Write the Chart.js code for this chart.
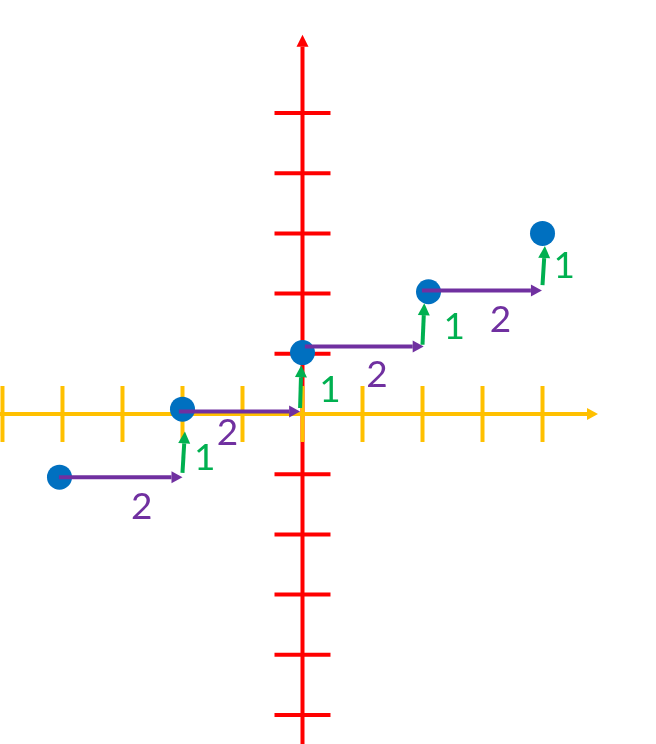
<!DOCTYPE html>
<html>
<head>
<meta charset="utf-8">
<script src="https://cdn.jsdelivr.net/npm/chart.js@4"></script>
<style>
  body { margin: 0; background: #fff; }
  #wrap { width: 656px; height: 744px; }
</style>
</head>
<body>
<div id="wrap"><canvas id="slopeChart" width="656" height="744"></canvas></div>
<script>
// points on the line
const pointX = [-4.05, -2, 0, 2.1, 4];
const pointY = [-1.05, 0.08, 1.02, 2.03, 3];

// axis tick values and axis extents
const xTicks = [-5, -4, -3, -2, -1, 0, 1, 2, 3, 4];
const yTicks = [-5, -4, -3, -2, -1, 0, 1, 2, 3, 4, 5];
const xAxisRange = [-5.05, 4.925];
const yAxisRange = [-5.5, 6.3];

// run arrows (purple): x from, x to, y
const runFromX = [-4.06, -2.06, 0.04, 1.99];
const runToX = [-2.0, -0.04, 2.02, 3.99];
const runY = [-1.05, 0.04, 1.12, 2.05];
const runText = ["2", "2", "2", "2"];
const runLabelX = [-2.68, -1.25, 1.24, 3.30];
const runLabelY = [-1.54, -0.32, 0.65, 1.56];

// rise arrows (green)
const riseFromX = [-2.0, -0.04, 2.0, 4.0];
const riseFromY = [-0.98, 0.10, 1.15, 2.14];
const riseToX = [-1.96, -0.02, 2.03, 4.04];
const riseToY = [-0.29, 0.81, 1.84, 2.79];
const riseText = ["1", "1", "1", "1"];
const riseLabelX = [-1.63, 0.46, 2.53, 4.36];
const riseLabelY = [-0.73, 0.40, 1.44, 2.45];

const YELLOW = "#FFC000";
const RED = "#FF0000";
const BLUE = "#0070C0";
const PURPLE = "#7030A0";
const GREEN = "#00B050";

function arrow(ctx, x1, y1, x2, y2, color, width, headLen, headHalf) {
    const ang = Math.atan2(y2 - y1, x2 - x1);
    const bx = x2 - Math.cos(ang) * headLen;
    const by = y2 - Math.sin(ang) * headLen;
    ctx.strokeStyle = color;
    ctx.fillStyle = color;
    ctx.lineWidth = width;
    ctx.lineCap = "butt";
    ctx.beginPath();
    ctx.moveTo(x1, y1);
    ctx.lineTo(bx, by);
    ctx.stroke();
    ctx.beginPath();
    ctx.moveTo(x2, y2);
    ctx.lineTo(bx + Math.sin(ang) * headHalf, by - Math.cos(ang) * headHalf);
    ctx.lineTo(bx - Math.sin(ang) * headHalf, by + Math.cos(ang) * headHalf);
    ctx.closePath();
    ctx.fill();
}

// axes under the points, arrows and numbers over them
const drawPlane = {
    id: "drawPlane",
    beforeDatasetsDraw(chart) {
        const { ctx, scales: { x, y } } = chart;
        const ox = x.getPixelForValue(0);
        const oy = y.getPixelForValue(0);
        ctx.save();
        // red vertical axis
        ctx.strokeStyle = RED;
        ctx.lineWidth = 4;
        yTicks.forEach(v => {
            const py = y.getPixelForValue(v);
            ctx.beginPath();
            ctx.moveTo(ox - 28, py);
            ctx.lineTo(ox + 28, py);
            ctx.stroke();
        });
        arrow(ctx, ox, y.getPixelForValue(yAxisRange[0]), ox, y.getPixelForValue(yAxisRange[1]), RED, 4, 12, 6);
        // yellow horizontal axis
        ctx.strokeStyle = YELLOW;
        ctx.lineWidth = 4;
        xTicks.forEach(v => {
            const px = x.getPixelForValue(v);
            ctx.beginPath();
            ctx.moveTo(px, oy - 28);
            ctx.lineTo(px, oy + 28);
            ctx.stroke();
        });
        arrow(ctx, x.getPixelForValue(xAxisRange[0]), oy, x.getPixelForValue(xAxisRange[1]), oy, YELLOW, 4, 11, 6);
        ctx.restore();
    },
    afterDatasetsDraw(chart) {
        const { ctx, scales: { x, y } } = chart;
        ctx.save();
        runFromX.forEach((v, i) => {
            arrow(ctx, x.getPixelForValue(v), y.getPixelForValue(runY[i]),
                x.getPixelForValue(runToX[i]), y.getPixelForValue(runY[i]), PURPLE, 4, 11, 6);
        });
        riseFromX.forEach((v, i) => {
            arrow(ctx, x.getPixelForValue(v), y.getPixelForValue(riseFromY[i]),
                x.getPixelForValue(riseToX[i]), y.getPixelForValue(riseToY[i]), GREEN, 4, 12, 6);
        });
        ctx.font = "37px Lato";
        ctx.textAlign = "center";
        ctx.textBaseline = "middle";
        ctx.fillStyle = PURPLE;
        runText.forEach((t, i) => {
            ctx.fillText(t, x.getPixelForValue(runLabelX[i]), y.getPixelForValue(runLabelY[i]));
        });
        ctx.fillStyle = GREEN;
        riseText.forEach((t, i) => {
            ctx.fillText(t, x.getPixelForValue(riseLabelX[i]), y.getPixelForValue(riseLabelY[i]));
        });
        ctx.restore();
    }
};

const ctx = document.getElementById("slopeChart").getContext("2d");
new Chart(ctx, {
    type: "scatter",
    data: {
        datasets: [{
            data: pointX.map((v, i) => ({ x: v, y: pointY[i] })),
            backgroundColor: BLUE,
            borderWidth: 0,
            pointRadius: 12.5,
            pointHoverRadius: 12.5
        }]
    },
    options: {
        responsive: false,
        animation: false,
        layout: { padding: 0 },
        plugins: { legend: { display: false }, tooltip: { enabled: false } },
        scales: {
            // chart area is inset by the point radius
            x: { type: "linear", display: false, min: -4.833, max: 5.683 },
            y: { type: "linear", display: false, min: -5.274, max: 6.669 }
        }
    },
    plugins: [drawPlane]
});
</script>
</body>
</html>
